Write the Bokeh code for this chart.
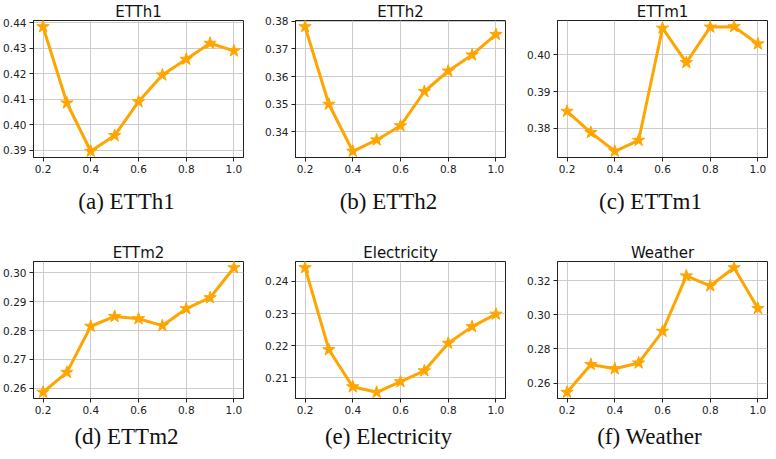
from bokeh.plotting import figure
from bokeh.models import Range1d, FixedTicker, PrintfTickFormatter, Title
from bokeh.layouts import gridplot
from bokeh.embed import file_html
from bokeh.resources import INLINE

ratios = [0.2, 0.3, 0.4, 0.5, 0.6, 0.7, 0.8, 0.9, 1.0]
x_ticks = [0.2, 0.4, 0.6, 0.8, 1.0]

etth1 = [0.4385, 0.4085, 0.3895, 0.3957, 0.4090, 0.4195, 0.4257, 0.4320, 0.4290]
etth2 = [0.3780, 0.3500, 0.3330, 0.3371, 0.3422, 0.3546, 0.3620, 0.3678, 0.3752]
ettm1 = [0.3846, 0.3788, 0.3737, 0.3767, 0.4073, 0.3979, 0.4076, 0.4077, 0.4030]
ettm2 = [0.2586, 0.2655, 0.2815, 0.2849, 0.2841, 0.2817, 0.2876, 0.2914, 0.3018]
electricity = [0.2443, 0.2187, 0.2071, 0.2054, 0.2087, 0.2121, 0.2207, 0.2259, 0.2298]
weather = [0.2546, 0.2709, 0.2684, 0.2718, 0.2904, 0.3229, 0.3171, 0.3277, 0.3038]

titles = ["ETTh1", "ETTh2", "ETTm1", "ETTm2", "Electricity", "Weather"]
captions = ["(a) ETTh1", "(b) ETTh2", "(c) ETTm1", "(d) ETTm2", "(e) Electricity", "(f) Weather"]
series = [etth1, etth2, ettm1, ettm2, electricity, weather]
y_ticks = [
    [0.39, 0.40, 0.41, 0.42, 0.43, 0.44],
    [0.34, 0.35, 0.36, 0.37, 0.38],
    [0.38, 0.39, 0.40],
    [0.26, 0.27, 0.28, 0.29, 0.30],
    [0.21, 0.22, 0.23, 0.24],
    [0.26, 0.28, 0.30, 0.32],
]

ORANGE = "#FFA500"
FRAME_W = 210
CAP_SIZE = 23

# Times/Liberation Serif advance widths (1/1000 em), for centring the captions
SERIF_W = {"(": 333, ")": 333, " ": 250, "a": 444, "b": 500, "c": 444, "d": 500,
           "e": 444, "f": 333, "h": 500, "i": 278, "l": 278, "m": 778, "r": 333,
           "t": 278, "y": 500, "E": 611, "T": 611, "W": 944, "1": 500, "2": 500}


def text_width(s, size):
    return sum(SERIF_W.get(ch, 500) for ch in s) * size / 1000.0


def padded(vals, frac=0.05):
    lo, hi = min(vals), max(vals)
    pad = (hi - lo) * frac
    return lo - pad, hi + pad


def make(i):
    row, col = divmod(i, 3)
    ys = series[i]
    x0, x1 = padded(ratios)
    y0, y1 = padded(ys)
    p = figure(
        frame_width=FRAME_W, frame_height=137,
        output_backend="svg", toolbar_location=None,
        x_range=Range1d(x0, x1), y_range=Range1d(y0, y1),
        min_border_left=33,
        min_border_right=19 if col < 2 else 1,
        min_border_top=16,
        min_border_bottom=84 if row == 0 else 53,
    )
    p.title.text = titles[i]
    p.title.align = "center"
    p.title.text_font = "DejaVu Sans"
    p.title.text_font_size = "15px"
    p.title.text_font_style = "normal"
    p.title.text_color = "#111111"
    p.title.standoff = 0

    off = FRAME_W / 2 - 12 - text_width(captions[i], CAP_SIZE) / 2
    cap = Title(text=captions[i], align="left", text_font="Liberation Serif",
                text_font_size=f"{CAP_SIZE}px", text_font_style="normal",
                text_color="#111111", offset=off, standoff=23 if row == 0 else 11)
    p.add_layout(cap, "below")

    p.line(ratios, ys, line_color=ORANGE, line_width=3)
    p.scatter(ratios, ys, marker="star", size=13, fill_color=ORANGE, line_color=ORANGE)

    p.xaxis.ticker = FixedTicker(ticks=x_ticks)
    p.xaxis.formatter = PrintfTickFormatter(format="%.1f")
    p.yaxis.ticker = FixedTicker(ticks=y_ticks[i])
    p.yaxis.formatter = PrintfTickFormatter(format="%.2f")
    for ax in (p.xaxis, p.yaxis):
        ax.major_label_text_font = "DejaVu Sans"
        ax.major_label_text_font_size = "10.5px"
        ax.major_label_text_color = "#222222"
        ax.major_tick_out = 4
        ax.major_tick_in = 0
        ax.minor_tick_line_color = None
        ax.major_label_standoff = 3
        ax.axis_line_color = "#222222"
        ax.major_tick_line_color = "#222222"
    for g in (p.xgrid, p.ygrid):
        g.grid_line_color = "#cccccc"
        g.grid_line_width = 1
    p.outline_line_color = "#222222"
    p.outline_line_alpha = 1
    p.outline_line_width = 1
    p.background_fill_color = "white"
    p.border_fill_color = "white"
    return p


plots = [make(i) for i in range(6)]
grid = gridplot([plots[:3], plots[3:]], toolbar_location=None)

open("out.html", "w").write(file_html(grid, INLINE))
